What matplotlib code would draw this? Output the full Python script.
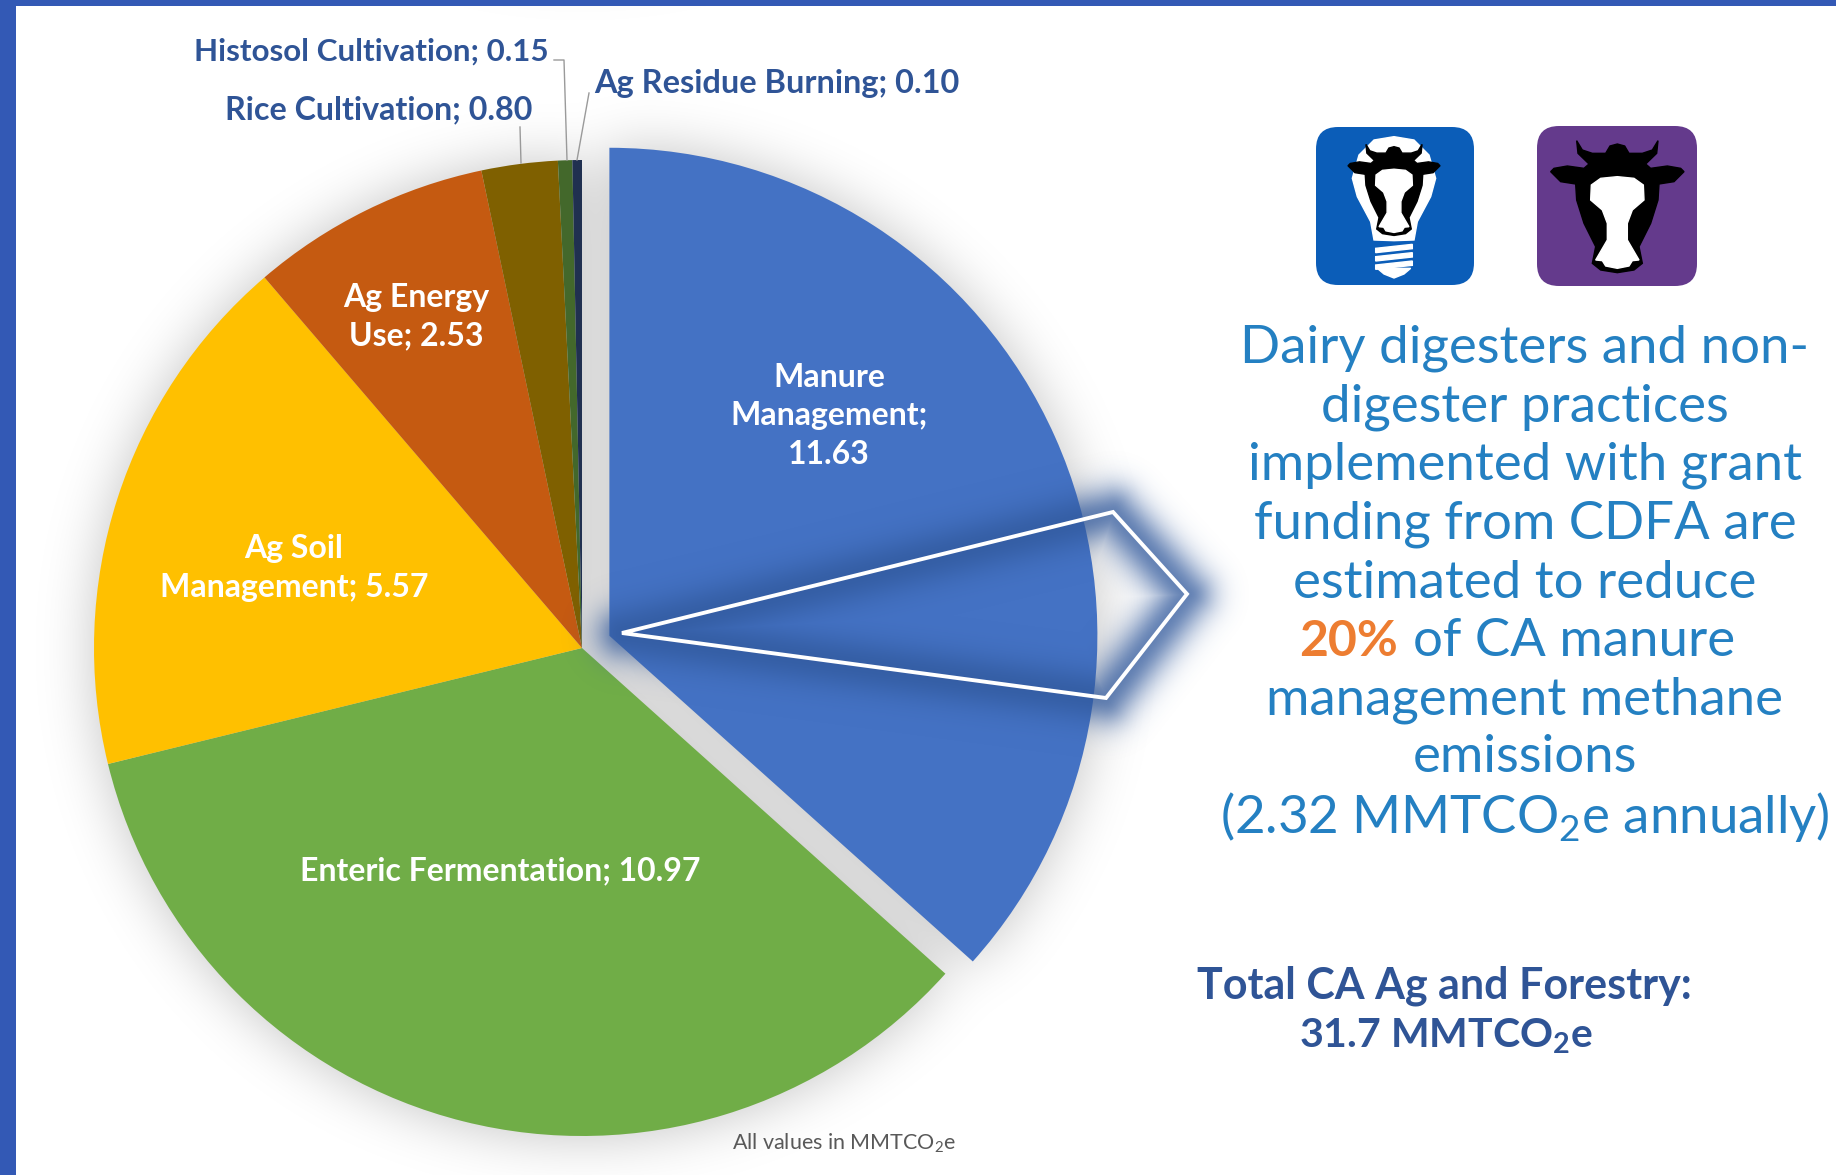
import numpy as np
import matplotlib
matplotlib.use("Agg")
import matplotlib.pyplot as plt
from matplotlib.patches import FancyBboxPatch, Polygon, Rectangle

plt.rcParams['font.family'] = ['Lato', 'DejaVu Sans']
plt.rcParams['mathtext.default'] = 'regular'

# values from the chart, MMTCO2e
categories = ['Manure Management', 'Enteric Fermentation', 'Ag Soil Management', 'Ag Energy Use',
              'Rice Cultivation', 'Histosol Cultivation', 'Ag Residue Burning']
values = [11.63, 10.97, 5.57, 2.53, 0.80, 0.15, 0.10]
colors = ['#4472C4', '#70AD47', '#FFC000', '#C55A11', '#7F6000', '#43682B', '#203050']

callout_lines = ['Dairy digesters and non-', 'digester practices', 'implemented with grant',
                 'funding from CDFA are', 'estimated to reduce', None, 'management methane',
                 'emissions', '(2.32 MMTCO$_2$e annually)']

W, H = 1836, 1175
NAVY = '#2F5496'
BLUE_TEXT = '#2480C2'


def Y(y):
    # picture coordinates run top down
    return H - y


fig = plt.figure(figsize=(W / 100, H / 100), dpi=100)
ax = fig.add_axes([0, 0, 1, 1])

cx, cy, radius = 582, 648, 488
explode_by = 30  # pie() takes this in data units, here pixels
explode = [explode_by] + [0] * (len(values) - 1)
ax.pie(values, colors=colors, startangle=90, counterclock=False, center=(cx, Y(cy)), radius=radius,
       explode=explode, wedgeprops={'linewidth': 0, 'zorder': 1})

# soft shadow under the pie
yy, xx = np.mgrid[0:H, 0:W]
end_angle = 360 * values[0] / sum(values)
mid = np.radians(end_angle / 2)
ex, ey = cx + explode_by * np.sin(mid), cy - explode_by * np.cos(mid)
ang = np.degrees(np.arctan2(xx - cx, cy - yy)) % 360
ang_e = np.degrees(np.arctan2(xx - ex, ey - yy)) % 360
mask = (np.hypot(xx - cx, yy - cy) < radius) & (ang > end_angle)
mask = mask | ((np.hypot(xx - ex, yy - ey) < radius) & (ang_e < end_angle))
fy = np.fft.fftfreq(H)[:, None]
fx = np.fft.rfftfreq(W)[None, :]
sigma = 28
blur = np.fft.irfft2(np.fft.rfft2(mask.astype(float)) * np.exp(-2 * (np.pi * sigma) ** 2 * (fx ** 2 + fy ** 2)), s=mask.shape)
shadow = np.zeros((H, W, 4))
shadow[..., 3] = np.clip(blur, 0, 1) * 0.24
ax.imshow(shadow, extent=(0, W, 0, H), origin='upper', zorder=0, aspect='auto')

# callout shape with blue glow
poly = np.array([[622, 633], [1113, 512], [1187, 594], [1106, 698]], float)
dist = np.full((H, W), 1e9)
for i in range(len(poly)):
    a, b = poly[i], poly[(i + 1) % len(poly)]
    ab = b - a
    t = np.clip(((xx - a[0]) * ab[0] + (yy - a[1]) * ab[1]) / (ab @ ab), 0, 1)
    dist = np.minimum(dist, np.hypot(xx - a[0] - t * ab[0], yy - a[1] - t * ab[1]))
glow = np.zeros((H, W, 4))
glow[..., :3] = np.array([48, 88, 155]) / 255
glow[..., 3] = 0.75 * np.exp(-(dist / 27) ** 2)
ax.imshow(glow, extent=(0, W, 0, H), origin='upper', zorder=2, aspect='auto')
ax.add_patch(Polygon(np.c_[poly[:, 0], Y(poly[:, 1])], closed=True, fill=False, edgecolor='white',
                     linewidth=2.8, joinstyle='miter', zorder=3))

# page frame
ax.add_patch(Rectangle((0, Y(6)), W, 6, facecolor='#3359B5', edgecolor='none', zorder=5))
ax.add_patch(Rectangle((0, 0), 16, H, facecolor='#3359B5', edgecolor='none', zorder=5))

# leader lines
leader = {'color': '#9A9A9A', 'linewidth': 1.0, 'zorder': 4}
ax.plot([520, 521], [Y(127), Y(163)], **leader)
ax.plot([554, 564, 567], [Y(60), Y(60), Y(160)], **leader)
ax.plot([589, 577], [Y(93), Y(160)], **leader)


def label(i):
    return f'{categories[i]}; {values[i]:.2f}'


inside = {'color': 'white', 'fontsize': 23, 'fontweight': 'bold', 'ha': 'center', 'va': 'center',
          'linespacing': 1.38, 'zorder': 6}
ax.text(829, Y(416), f'Manure\nManagement;\n{values[0]:.2f}', **inside)
ax.text(500, Y(871), label(1), **inside)
ax.text(294, Y(568), f'Ag Soil\nManagement; {values[2]:.2f}', **inside)
ax.text(416, Y(317), f'Ag Energy\nUse; {values[3]:.2f}', **inside)

outside = {'color': NAVY, 'fontweight': 'bold', 'va': 'center', 'zorder': 6}
ax.text(532, Y(110), label(4), ha='right', fontsize=23.2, **outside)
ax.text(549, Y(52), label(5), ha='right', fontsize=22.6, **outside)
ax.text(594, Y(84), label(6), ha='left', fontsize=23.4, **outside)

ax.text(844, Y(1143), 'All values in MMTCO$_2$e', color='#595959', fontsize=15.5, ha='center', va='center')

# right hand text
line_y = [348, 407, 465, 524, 583, 641, 700, 758, 817]
for y, line in zip(line_y, callout_lines):
    if line is not None:
        ax.text(1525, Y(y), line, color=BLUE_TEXT, fontsize=38, ha='center', va='center')
ax.text(1398, Y(641), '20%', color='#ED7D31', fontsize=36, fontweight='bold', ha='right', va='center')
ax.text(1413, Y(641), 'of CA manure', color=BLUE_TEXT, fontsize=38, ha='left', va='center')

total = {'color': NAVY, 'fontweight': 'bold', 'va': 'center'}
ax.text(1197, Y(986), 'Total CA Ag and Forestry:', ha='left', fontsize=31, **total)
ax.text(1446, Y(1036), '31.7 MMTCO$_2$e', ha='center', fontsize=29.5, **total)

# cow icons, shapes given in zoomed pixels around the head centre
head_half = [(0, 132), (22, 138), (35, 160), (75, 160), (105, 150), (122, 122), (118, 160), (85, 192),
             (100, 205), (150, 198), (190, 205), (200, 215), (170, 245), (125, 252), (122, 300),
             (100, 370), (65, 440), (75, 490), (50, 510), (0, 518)]
face_half = [(0, 230), (50, 235), (78, 255), (80, 300), (45, 330), (30, 370), (30, 420), (65, 480),
             (45, 482), (35, 498), (0, 505)]
bulb_half = [(0, 110), (60, 120), (105, 165), (125, 235), (110, 290), (70, 365), (60, 420), (0, 422)]


def mirrored(half, x0, y0, s):
    pts = list(half) + [(-x, y) for x, y in reversed(half[1:-1])]
    return [(x0 + x * s / 3, Y(y0 + y * s / 3)) for x, y in pts]


def icon(x, y, w, h, color):
    ax.add_patch(FancyBboxPatch((x + 22, Y(y + h) + 22), w - 44, h - 44, boxstyle='round,pad=22,rounding_size=22',
                                facecolor=color, edgecolor='none', zorder=3))


icon(1316, 127, 158, 158, '#0B5DB8')
icon(1537, 126, 160, 160, '#643A8C')

bulb_x = 1280 + 342 / 3
ax.add_patch(Polygon(mirrored(bulb_half, bulb_x, 100, 1), color='white', zorder=4))
for top, half_w in [(433, 55), (458, 55), (483, 55)]:
    ax.add_patch(Polygon([(bulb_x - half_w / 3, Y(100 + (top + 12) / 3)), (bulb_x + half_w / 3, Y(100 + top / 3)),
                          (bulb_x + half_w / 3, Y(100 + (top + 13) / 3)), (bulb_x - half_w / 3, Y(100 + (top + 25) / 3))],
                         color='white', zorder=4))
ax.add_patch(Polygon(mirrored([(0, 505), (50, 505), (30, 522), (0, 534)], bulb_x, 100, 1), color='white', zorder=4))
ax.add_patch(Polygon(mirrored(head_half, bulb_x, 100 + (140 - 132 * 0.69) / 3, 0.69), color='black', zorder=5))
ax.add_patch(Polygon(mirrored(face_half, bulb_x, 100 + (140 - 132 * 0.69) / 3, 0.69), color='white', zorder=6))

cow_x = 1280 + 1012 / 3
ax.add_patch(Polygon(mirrored(head_half, cow_x, 100, 1), color='black', zorder=5))
ax.add_patch(Polygon(mirrored(face_half, cow_x, 100, 1), color='white', zorder=6))

ax.set_xlim(0, W)
ax.set_ylim(0, H)
ax.set_aspect('auto')
ax.axis('off')
plt.savefig("out.png", dpi=100)
